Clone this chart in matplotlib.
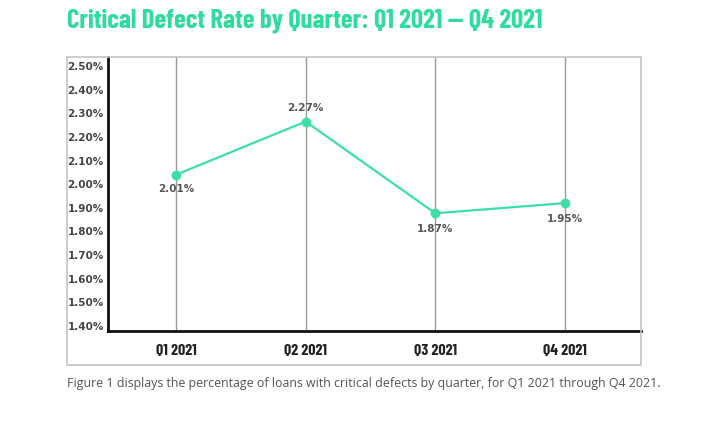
import matplotlib.pyplot as plt
from matplotlib.patches import Rectangle
from matplotlib.ticker import FuncFormatter

# quarters and defect rate (%), points as drawn, labels as printed
quarters = ['Q1 2021', 'Q2 2021', 'Q3 2021', 'Q4 2021']
rates = [2.04, 2.265, 1.877, 1.92]
rate_labels = ['2.01%', '2.27%', '1.87%', '1.95%']
label_offsets = [-14, 14, -16, -16]
y_ticks = [1.4, 1.5, 1.6, 1.7, 1.8, 1.9, 2.0, 2.1, 2.2, 2.3, 2.4, 2.5]

body_font = 'DejaVu Sans'
head_font = ['Barlow Condensed', 'DejaVu Sans']

W, H = 710, 434
fig = plt.figure(figsize=(W / 100, H / 100), dpi=100)

# light outer frame around the chart
fig.patches.append(Rectangle((67 / W, 1 - 365 / H), (641 - 67) / W, (365 - 57) / H,
                             transform=fig.transFigure, fill=False,
                             edgecolor='#c4c4c4', lw=1.2))

ax = fig.add_axes([108 / W, 1 - 331 / H, (641 - 108) / W, (331 - 57) / H])
x = list(range(len(quarters)))
ax.plot(x, rates, color='#3ddfa6', lw=1.6, marker='o', ms=6, zorder=3)

for xi, yi, lab, off in zip(x, rates, rate_labels, label_offsets):
    ax.annotate(lab, (xi, yi), xytext=(0, off), textcoords='offset pixels',
                ha='center', va='center', fontsize=7.5, fontweight='bold',
                color='#555555', family=body_font)

ax.set_xlim(-0.524, 3.586)
ax.set_ylim(1.379, 2.538)
ax.set_xticks(x)
ax.set_xticklabels(quarters, fontsize=11.5, fontweight='bold', color='#222222',
                   family=head_font)
ax.set_yticks(y_ticks)
ax.yaxis.set_major_formatter(FuncFormatter(lambda v, p: '%.2f%%' % v))
for t in ax.get_yticklabels():
    t.set_fontsize(7.5)
    t.set_fontweight('bold')
    t.set_color('#444444')
    t.set_family(body_font)
ax.tick_params(axis='both', length=0)
ax.tick_params(axis='y', pad=3)
ax.tick_params(axis='x', pad=9)

ax.grid(axis='x', color='#999999', lw=1)
ax.set_axisbelow(True)
ax.spines['top'].set_visible(False)
ax.spines['right'].set_visible(False)
ax.spines['left'].set_linewidth(2)
ax.spines['bottom'].set_linewidth(2)
ax.spines['left'].set_color('#111111')
ax.spines['bottom'].set_color('#111111')

fig.text(67 / W, 1 - 21 / H, 'Critical Defect Rate by Quarter: Q1 2021 \u2014 Q4 2021',
         fontsize=19.2, fontweight='bold', family=head_font,
         color='#2fdc9e', ha='left', va='center')
fig.text(67 / W, 1 - 383 / H,
         'Figure 1 displays the percentage of loans with critical defects by quarter, '
         'for Q1 2021 through Q4 2021.',
         fontsize=8.9, color='#555555', ha='left', va='center', family='Open Sans')

fig.savefig('out.png', dpi=100)
